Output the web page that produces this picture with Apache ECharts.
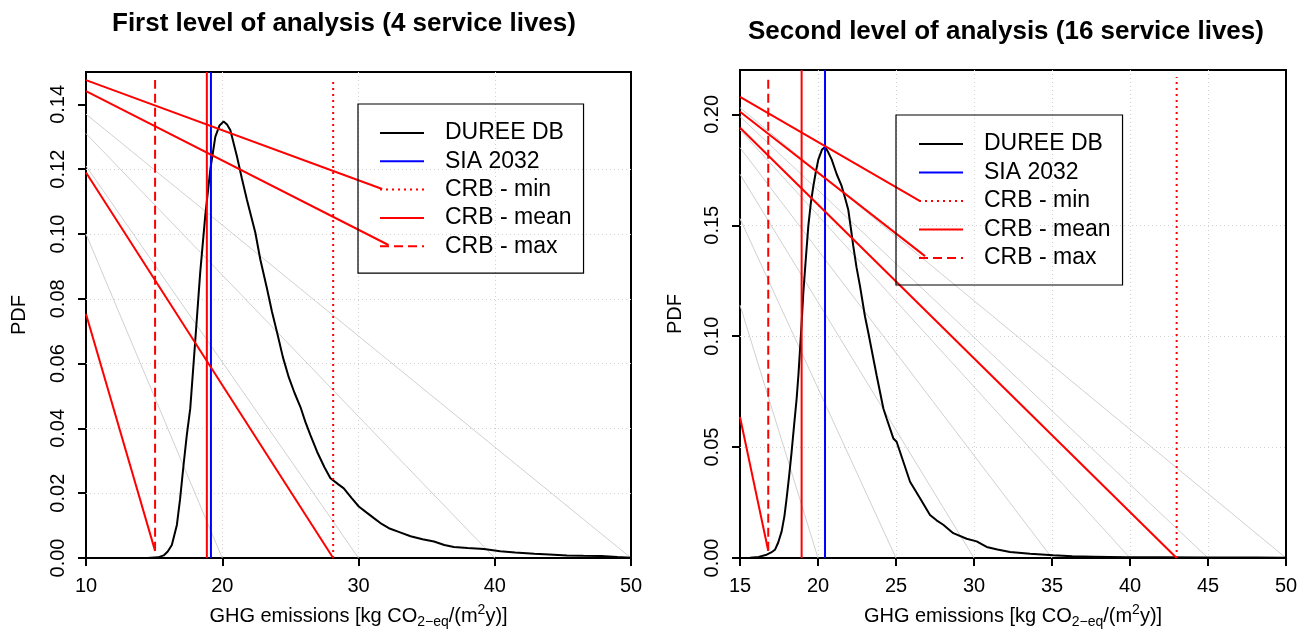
<!DOCTYPE html>
<html>
<head>
<meta charset="utf-8">
<script src="https://cdn.jsdelivr.net/npm/echarts@6/dist/echarts.min.js"></script>
<style>
  html, body { margin: 0; padding: 0; background: #fff; }
  #chart { width: 1313px; height: 634px; }
</style>
</head>
<body>
<div id="chart"></div>
<script>
var FONT = 'Liberation Sans, Arial, Helvetica, sans-serif';
var names = ['DUREE DB', 'SIA 2032', 'CRB - min', 'CRB - mean', 'CRB - max'];

// ---- first level of analysis (4 service lives) ----
var duree1X = [14.5, 15.3, 15.7, 16.0, 16.3, 16.67, 16.9, 17.16, 17.4, 17.65, 18.01, 18.38, 18.75, 19.12, 19.49, 19.8, 20.1,
  20.35, 20.59, 21.08, 21.45, 21.81, 22.43, 22.79, 23.29, 23.65, 24.02, 24.45, 24.88, 25.3, 25.74, 26.1, 26.47, 26.96,
  27.5, 27.94, 28.5, 28.92, 29.5, 30.02, 30.6, 31.13, 31.7, 32.23, 33.0, 33.82, 34.7, 35.54, 36.3, 37.0, 38.0, 39.2,
  40.4, 41.5, 42.9, 44.0, 45.3, 46.5, 47.8, 49.0, 50.0];
var duree1Y = [0, 0.0002, 0.0008, 0.002, 0.004, 0.0102, 0.018, 0.0287, 0.038, 0.0461, 0.0666, 0.088, 0.1055, 0.1198, 0.130, 0.1335, 0.1347,
  0.1338, 0.1321, 0.1239, 0.117, 0.1106, 0.1004, 0.0922, 0.083, 0.076, 0.0697, 0.062, 0.0558, 0.051, 0.0466, 0.042, 0.0379, 0.0328,
  0.028, 0.0246, 0.0228, 0.0215, 0.0185, 0.0159, 0.014, 0.0123, 0.0105, 0.0092, 0.008, 0.0067, 0.0058, 0.0051, 0.004, 0.0034, 0.0031, 0.0028,
  0.0021, 0.0017, 0.0013, 0.0011, 0.0008, 0.0007, 0.0006, 0.0003, 0.0001];
var sia1 = 19.17;
var crb1X = [28.14, 18.87, 15.07];      // min, mean, max
var crb1Lo = [0, 0, 0.0022];
var crb1Hi = [0.148, 0.15, 0.1475];
var diag1X0 = [10, 10, 10, 10];
var diag1Y0 = [0.0753, 0.119, 0.1441, 0.1475];
var diag1X1 = [15.07, 28.14, 32.2, 31.74];
var diag1Y1 = [0.0022, 0, 0.0966, 0.1139];
var guide1Y0 = [0.100, 0.121, 0.131, 0.137];
var guide1X1 = [20, 30, 40, 50];
var xTicks1 = [10, 20, 30, 40, 50];
var yTicks1 = [0, 0.02, 0.04, 0.06, 0.08, 0.10, 0.12, 0.14];

// ---- second level of analysis (16 service lives) ----
var duree2X = [15, 15.64, 16.2, 16.71, 17.0, 17.24, 17.45, 17.67, 17.85, 17.99, 18.15, 18.31, 18.47, 18.63, 18.75, 18.85, 18.96,
  19.06, 19.22, 19.38, 19.54, 19.7, 19.86, 20.02, 20.25, 20.45, 20.65, 20.88, 21.2, 21.52, 21.75, 21.94, 22.1, 22.26, 22.47,
  22.69, 23.01, 23.22, 23.55, 23.76, 24.19, 24.4, 24.83, 25.04, 25.47, 25.9, 26.54, 27.18, 27.6, 28.03, 28.67, 29.53, 30.17,
  30.81, 31.5, 32.31, 33.59, 35.08, 36.3, 37.65, 39.8, 42.0, 45.0, 48.0, 50.0];
var duree2Y = [0, 0.0001, 0.0005, 0.0015, 0.0025, 0.0037, 0.007, 0.012, 0.019, 0.027, 0.037, 0.048, 0.06, 0.0718, 0.083, 0.0943, 0.107,
  0.1197, 0.135, 0.1497, 0.16, 0.1676, 0.174, 0.1796, 0.184, 0.1853, 0.183, 0.1796, 0.173, 0.1676, 0.162, 0.157, 0.149, 0.1407, 0.131,
  0.1227, 0.109, 0.1018, 0.0898, 0.0823, 0.0674, 0.0629, 0.0539, 0.0524, 0.0434, 0.0344, 0.0269, 0.0194, 0.017, 0.015, 0.0112, 0.0087, 0.0075,
  0.005, 0.0038, 0.0027, 0.0019, 0.0012, 0.0008, 0.0006, 0.0003, 0.0003, 0.0002, 0.0002, 0.0001];
var sia2 = 20.45;
var crb2X = [42.99, 18.95, 16.81];      // min, mean, max
var crb2Lo = [0, 0, 0.0033];
var crb2Hi = [0.2169, 0.22, 0.2163];
var diag2X0 = [15, 15, 15, 15];
var diag2Y0 = [0.0636, 0.2079, 0.2012, 0.194];
var diag2X1 = [16.81, 26.49, 26.86, 42.99];
var diag2Y1 = [0.0033, 0.1611, 0.1361, 0];
var guide2Y0 = [0.114, 0.153, 0.173, 0.185, 0.193, 0.199, 0.203];
var guide2X1 = [20, 25, 30, 35, 40, 45, 50];
var xTicks2 = [15, 20, 25, 30, 35, 40, 45, 50];
var yTicks2 = [0, 0.05, 0.10, 0.15, 0.20];

var RED = '#ff0000', BLUE = '#0000ff', GREY = '#d0d0d0';
var DOT = [2, 4], DASH = [9, 5];

function line(g, name, pts, color, width, type, z) {
  return {
    type: 'line', name: name, xAxisIndex: g, yAxisIndex: g, data: pts,
    symbol: 'none', showSymbol: false, silent: true, animation: false, z: z || 2,
    lineStyle: { color: color, width: width, type: type || 'solid' },
    itemStyle: { color: color }
  };
}

function panelSeries(g, xmin, ymax, dx, dy, sia, crbX, crbLo, crbHi, dX0, dY0, dX1, dY1, gY0, gX1) {
  var s = [];
  for (var i = 0; i < gY0.length; i++) {
    s.push(line(g, 'guide', [[xmin, gY0[i]], [gX1[i], 0]], GREY, 1, 'solid', 1));
  }
  s.push(line(g, 'DUREE DB', dx.map(function (x, i) { return [x, dy[i]]; }), '#000', 2, 'solid', 3));
  s.push(line(g, 'SIA 2032', [[sia, 0], [sia, ymax]], BLUE, 2, 'solid', 3));
  var types = [DOT, 'solid', DASH];
  for (var j = 0; j < 3; j++) {
    s.push(line(g, names[2 + j], [[crbX[j], crbLo[j]], [crbX[j], crbHi[j]]], RED, 2, types[j], 3));
  }
  for (var k = 0; k < dX0.length; k++) {
    s.push(line(g, 'crb-seg', [[dX0[k], dY0[k]], [dX1[k], dY1[k]]], RED, 2, 'solid', 3));
  }
  return s;
}

function xAxis(g, min, max, step, ticks) {
  return {
    type: 'value', gridIndex: g, min: min, max: max, interval: step,
    name: '{t|GHG emissions [kg CO}{s|2\u2212eq}{t|/(m}{p|2}{t|y)]}',
    nameLocation: 'middle', nameGap: 45,
    nameTextStyle: {
      color: '#000', fontFamily: FONT, fontSize: 20,
      rich: {
        t: { fontSize: 20, fontFamily: FONT, color: '#000', lineHeight: 26 },
        s: { fontSize: 14, fontFamily: FONT, color: '#000', lineHeight: 14, verticalAlign: 'bottom' },
        p: { fontSize: 14, fontFamily: FONT, color: '#000', lineHeight: 14, verticalAlign: 'top' }
      }
    },
    axisLine: { show: false },
    axisTick: { show: true, length: 8, customValues: ticks, lineStyle: { color: '#000', width: 2 } },
    axisLabel: { customValues: ticks, color: '#000', fontSize: 20, fontFamily: FONT, margin: 18 },
    splitLine: { show: true, showMinLine: false, showMaxLine: false, lineStyle: { color: GREY, width: 1, type: [1, 3] } }
  };
}

function yAxis(g, max, step, ticks, gap) {
  return {
    type: 'value', gridIndex: g, min: 0, max: max, interval: step,
    name: 'PDF', nameLocation: 'middle', nameGap: gap,
    nameTextStyle: { color: '#000', fontFamily: FONT, fontSize: 20 },
    axisLine: { show: false },
    axisTick: { show: true, length: 8, customValues: ticks, lineStyle: { color: '#000', width: 2 } },
    axisLabel: {
      customValues: ticks, rotate: 90, color: '#000', fontSize: 20, fontFamily: FONT, margin: 18,
      formatter: function (v) { return v.toFixed(2); }
    },
    splitLine: { show: true, showMinLine: false, showMaxLine: false, lineStyle: { color: GREY, width: 1, type: [1, 3] } }
  };
}

function legend(left, top, gap, pad) {
  return {
    data: names, orient: 'vertical', left: left, top: top, selectedMode: false,
    itemWidth: 44, itemHeight: 14, itemGap: gap, padding: pad,
    borderColor: '#000', borderWidth: 1.2, backgroundColor: 'transparent',
    itemStyle: { color: 'rgba(0,0,0,0)', borderWidth: 0, opacity: 0 },
    textStyle: { fontSize: 23, lineHeight: 24, fontFamily: FONT, color: '#000', padding: [0, 0, 0, 16] }
  };
}

var chart = echarts.init(document.getElementById('chart'));
chart.setOption({
  animation: false,
  backgroundColor: '#fff',
  title: [
    { text: 'First level of analysis (4 service lives)', left: 107, top: 6,
      textStyle: { fontSize: 26, fontWeight: 'bold', color: '#000', fontFamily: FONT } },
    { text: 'Second level of analysis (16 service lives)', left: 743, top: 14,
      textStyle: { fontSize: 26, fontWeight: 'bold', color: '#000', fontFamily: FONT } }
  ],
  legend: [
    legend(358, 104, 4.3, [17, 12, 15, 21]),
    legend(896, 115, 4.5, [17, 12, 15, 22])
  ],
  grid: [
    { left: 86, top: 72, width: 545, height: 488, show: true, borderColor: '#000', borderWidth: 2, backgroundColor: 'transparent' },
    { left: 740, top: 70, width: 546, height: 490, show: true, borderColor: '#000', borderWidth: 2, backgroundColor: 'transparent' }
  ],
  xAxis: [xAxis(0, 10, 50, 10, xTicks1), xAxis(1, 15, 50, 5, xTicks2)],
  yAxis: [yAxis(0, 0.15, 0.01, yTicks1, 57), yAxis(1, 0.22, 0.01, yTicks2, 55)],
  series: panelSeries(0, 10, 0.15, duree1X, duree1Y, sia1, crb1X, crb1Lo, crb1Hi, diag1X0, diag1Y0, diag1X1, diag1Y1, guide1Y0, guide1X1)
    .concat(panelSeries(1, 15, 0.22, duree2X, duree2Y, sia2, crb2X, crb2Lo, crb2Hi, diag2X0, diag2Y0, diag2X1, diag2Y1, guide2Y0, guide2X1))
});
</script>
</body>
</html>
